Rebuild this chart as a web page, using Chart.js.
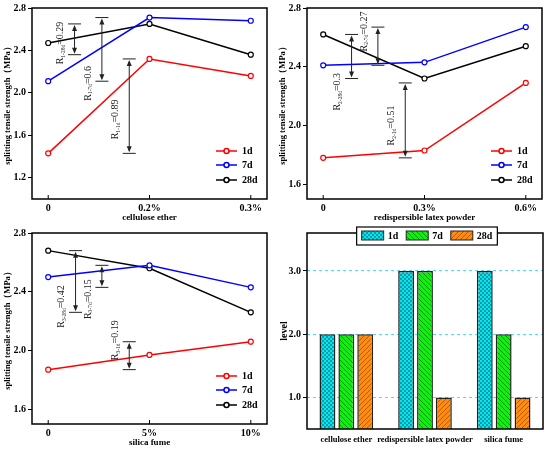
<!DOCTYPE html>
<html>
<head>
<meta charset="utf-8">
<script src="https://cdn.jsdelivr.net/npm/chart.js@4.4.0/dist/chart.umd.min.js"></script>
<style>
  body { margin: 0; background: #fff; }
  #wrap { position: relative; width: 550px; height: 450px; }
  .cell { position: absolute; width: 275px; height: 225px; }
</style>
</head>
<body>
<div id="wrap">
  <div class="cell" style="left:0;top:0"><canvas id="c1" width="275" height="225"></canvas></div>
  <div class="cell" style="left:275px;top:0"><canvas id="c2" width="275" height="225"></canvas></div>
  <div class="cell" style="left:0;top:225px"><canvas id="c3" width="275" height="225"></canvas></div>
  <div class="cell" style="left:275px;top:225px"><canvas id="c4" width="275" height="225"></canvas></div>
</div>
<script>
// ---- data ----
const ageLabels = ['1d', '7d', '28d'];

const doseCE = ['0', '0.2%', '0.3%'];
const ce1d  = [1.43, 2.32, 2.16];
const ce7d  = [2.11, 2.71, 2.68];
const ce28d = [2.47, 2.65, 2.36];

const doseRLP = ['0', '0.3%', '0.6%'];
const rlp1d  = [1.78, 1.83, 2.29];
const rlp7d  = [2.41, 2.43, 2.67];
const rlp28d = [2.62, 2.32, 2.54];

const doseSF = ['0', '5%', '10%'];
const sf1d  = [1.87, 1.97, 2.06];
const sf7d  = [2.50, 2.58, 2.43];
const sf28d = [2.68, 2.56, 2.26];

// range arrows (order: 28d, 7d, 1d)
const ceRangeX = [0.26, 0.53, 0.80];
const ceRangeName = ['1-28d', '1-7d', '1-1d'];
const ceRangeVal = ['0.29', '0.6', '0.89'];
const ceRangeLabelY = [2.47, 2.09, 1.75];

const rlpRangeX = [0.28, 0.54, 0.81];
const rlpRangeName = ['2-28d', '2-7d', '2-1d'];
const rlpRangeVal = ['0.3', '0.27', '0.51'];
const rlpRangeLabelY = [2.23, 2.64, 2.00];

const sfRangeX = [0.27, 0.53, 0.80];
const sfRangeName = ['3-28d', '3-7d', '3-1d'];
const sfRangeVal = ['0.42', '0.15', '0.19'];
const sfRangeLabelY = [2.30, 2.35, 2.07];

const factors = ['cellulose ether', 'redispersible latex powder', 'silica fume'];
const level1d  = [2, 3, 3];
const level7d  = [2, 3, 2];
const level28d = [2, 1, 1];

const strengthTitle = 'splitting tensile strength（MPa）';

// ---- shared bits ----
const FONT = "'Liberation Serif', 'Times New Roman', serif";
Chart.defaults.font.family = FONT;
Chart.defaults.color = '#000';
const boldFont = { family: FONT, size: 10, weight: 'bold' };
const titleFont = { family: FONT, size: 9, weight: 'bold' };
const yTitleFont = { family: FONT, size: 8.5, weight: 'bold' };

const boxPlugin = {
  id: 'box',
  afterDraw(chart) {
    const { ctx, chartArea: ca } = chart;
    ctx.save();
    ctx.strokeStyle = '#000';
    ctx.lineWidth = 1.5;
    ctx.strokeRect(ca.left, ca.top, ca.right - ca.left, ca.bottom - ca.top);
    if (chart.config.type === 'line') {
      const x = chart.scales.x;
      ctx.lineWidth = 1;
      x.ticks.forEach(t => {
        const px = x.getPixelForValue(t.value);
        ctx.beginPath();
        ctx.moveTo(px, ca.bottom);
        ctx.lineTo(px, ca.bottom - 4);
        ctx.stroke();
      });
    }
    ctx.restore();
  }
};

const lineLegendPlugin = {
  id: 'lineLegend',
  afterDraw(chart) {
    const { ctx, chartArea: ca } = chart;
    const rows = [48, 34, 19];
    ctx.save();
    chart.data.datasets.forEach((ds, i) => {
      const yy = ca.bottom - rows[i];
      ctx.strokeStyle = ds.borderColor;
      ctx.lineWidth = 1.5;
      ctx.beginPath();
      ctx.moveTo(ca.right - 51, yy);
      ctx.lineTo(ca.right - 30, yy);
      ctx.stroke();
      ctx.fillStyle = '#fff';
      ctx.beginPath();
      ctx.arc(ca.right - 40.5, yy, 2.5, 0, Math.PI * 2);
      ctx.fill();
      ctx.stroke();
      ctx.fillStyle = '#000';
      ctx.font = 'bold 10px ' + FONT;
      ctx.textBaseline = 'middle';
      ctx.fillText(ds.label, ca.right - 25, yy);
    });
    ctx.restore();
  }
};

function rangePlugin(rx, series, names, vals, labelY) {
  return {
    id: 'ranges',
    afterDatasetsDraw(chart) {
      const { ctx } = chart;
      const x = chart.scales.x, y = chart.scales.y;
      rx.forEach((xv, i) => {
        const px = x.getPixelForValue(xv);
        const top = y.getPixelForValue(Math.max(...series[i]));
        const bot = y.getPixelForValue(Math.min(...series[i]));
        ctx.save();
        ctx.strokeStyle = '#222';
        ctx.fillStyle = '#222';
        ctx.lineWidth = 1;
        ctx.beginPath();
        ctx.moveTo(px - 6.5, top); ctx.lineTo(px + 6.5, top);
        ctx.moveTo(px - 6.5, bot); ctx.lineTo(px + 6.5, bot);
        ctx.moveTo(px, top + 3); ctx.lineTo(px, bot - 3);
        ctx.stroke();
        ctx.beginPath();
        ctx.moveTo(px, top + 1); ctx.lineTo(px - 2.5, top + 7); ctx.lineTo(px + 2.5, top + 7);
        ctx.closePath();
        ctx.moveTo(px, bot - 1); ctx.lineTo(px - 2.5, bot - 7); ctx.lineTo(px + 2.5, bot - 7);
        ctx.closePath();
        ctx.fill();
        // vertical label: R_sub=val
        ctx.translate(px - 14, y.getPixelForValue(labelY[i]));
        ctx.rotate(-Math.PI / 2);
        ctx.textBaseline = 'middle';
        const mainF = '10px ' + FONT, subF = '5.5px ' + FONT;
        ctx.font = mainF;
        const wR = ctx.measureText('R').width;
        const tail = '=' + vals[i];
        const wT = ctx.measureText(tail).width;
        ctx.font = subF;
        const wS = ctx.measureText(names[i]).width;
        let sx = -(wR + wS + wT) / 2;
        ctx.font = mainF;
        ctx.fillText('R', sx, 0);
        ctx.font = subF;
        ctx.fillText(names[i], sx + wR, 3);
        ctx.font = mainF;
        ctx.fillText(tail, sx + wR + wS, 0);
        ctx.restore();
      });
    }
  };
}

function lineChart(id, doses, s1, s7, s28, yMin, yMax, yTicks, xTitle, rx, names, vals, labelY) {
  const series = [s1, s7, s28];
  const colors = ['#ff0000', '#0000ff', '#000000'];
  new Chart(document.getElementById(id), {
    type: 'line',
    data: {
      datasets: series.map((s, i) => ({
        label: ageLabels[i],
        data: s.map((v, j) => ({ x: j, y: v })),
        borderColor: colors[i],
        borderWidth: 1.5,
        pointRadius: 2.5,
        pointBorderWidth: 1.2,
        pointBackgroundColor: '#fff',
        pointBorderColor: colors[i],
        tension: 0
      }))
    },
    options: {
      responsive: false,
      animation: false,
      layout: { padding: { left: 0, right: 8, top: 8, bottom: 0 } },
      plugins: { legend: { display: false }, tooltip: { enabled: false } },
      scales: {
        x: {
          type: 'linear', min: -0.16, max: 2.16,
          afterBuildTicks: s => { s.ticks = doses.map((d, j) => ({ value: j })); },
          afterFit: s => { s.height = 26; },
          ticks: { callback: v => doses[v], font: boldFont, padding: 3, maxRotation: 0 },
          grid: { display: false, drawTicks: false },
          border: { display: false },
          title: { display: true, text: xTitle, font: titleFont, padding: { top: 0, bottom: 2 } }
        },
        y: {
          type: 'linear', min: yMin, max: yMax,
          afterBuildTicks: s => { s.ticks = yTicks.map(v => ({ value: v })); },
          afterFit: s => { s.width = 32; },
          ticks: { callback: v => v.toFixed(1), font: boldFont, padding: 2 },
          grid: { drawOnChartArea: false, tickLength: 4, color: '#000' },
          border: { display: false },
          title: { display: true, text: strengthTitle, font: yTitleFont, padding: { top: 3, bottom: 0 } }
        }
      }
    },
    plugins: [rangePlugin(rx, [s28, s7, s1], names, vals, labelY), boxPlugin, lineLegendPlugin]
  });
}

lineChart('c1', doseCE, ce1d, ce7d, ce28d, 1.0, 2.8, [1.2, 1.6, 2.0, 2.4, 2.8],
  'cellulose ether', ceRangeX, ceRangeName, ceRangeVal, ceRangeLabelY);
lineChart('c2', doseRLP, rlp1d, rlp7d, rlp28d, 1.5, 2.8, [1.6, 2.0, 2.4, 2.8],
  'redispersible latex powder', rlpRangeX, rlpRangeName, rlpRangeVal, rlpRangeLabelY);
lineChart('c3', doseSF, sf1d, sf7d, sf28d, 1.5, 2.8, [1.6, 2.0, 2.4, 2.8],
  'silica fume', sfRangeX, sfRangeName, sfRangeVal, sfRangeLabelY);

// ---- bar chart of levels ----
function makePattern(base, line, kind) {
  const n = kind === 'cross' ? 4 : 5;
  const c = document.createElement('canvas');
  c.width = n; c.height = n;
  const g = c.getContext('2d');
  g.fillStyle = base;
  g.fillRect(0, 0, n, n);
  g.strokeStyle = line;
  g.lineWidth = 1;
  g.beginPath();
  [-n, 0, n].forEach(k => {
    if (kind === 'back' || kind === 'cross') { g.moveTo(k, 0); g.lineTo(k + n, n); }
    if (kind === 'fwd' || kind === 'cross') { g.moveTo(k + n, 0); g.lineTo(k, n); }
  });
  g.stroke();
  return g.createPattern(c, 'repeat');
}

const barCtx = document.getElementById('c4').getContext('2d');
const barFills = [
  makePattern('#00e8f0', '#0a9aa8', 'cross'),
  makePattern('#10f010', '#0a8f0a', 'back'),
  makePattern('#ff8c10', '#b85a00', 'fwd')
];

const barLegendPlugin = {
  id: 'barLegend',
  afterDraw(chart) {
    const { ctx, chartArea: ca } = chart;
    ctx.save();
    ctx.font = 'bold 10px ' + FONT;
    const items = chart.data.datasets.map(ds => ({ ds, w: ctx.measureText(ds.label).width }));
    const total = items.reduce((a, it) => a + 26 + it.w + 8, 0) + 2;
    const left = (ca.left + ca.right) / 2 - total / 2 + 2;
    ctx.fillStyle = '#fff';
    ctx.fillRect(left, 2, total, 18);
    ctx.strokeStyle = '#000';
    ctx.lineWidth = 1.2;
    ctx.strokeRect(left, 2, total, 18);
    let x = left + 5;
    items.forEach(it => {
      ctx.fillStyle = it.ds.backgroundColor;
      ctx.fillRect(x, 6, 22, 9);
      ctx.lineWidth = 1;
      ctx.strokeStyle = '#222';
      ctx.strokeRect(x, 6, 22, 9);
      ctx.fillStyle = '#000';
      ctx.textBaseline = 'middle';
      ctx.fillText(it.ds.label, x + 26, 11);
      x += 26 + it.w + 8;
    });
    ctx.restore();
  }
};

new Chart(barCtx, {
  type: 'bar',
  data: {
    labels: factors,
    datasets: [level1d, level7d, level28d].map((s, i) => ({
      label: ageLabels[i],
      data: s,
      backgroundColor: barFills[i],
      borderColor: '#222',
      borderWidth: 1.5,
      borderSkipped: false,
      categoryPercentage: 0.72,
      barPercentage: 0.84
    }))
  },
  options: {
    responsive: false,
    animation: false,
    layout: { padding: { left: 0, right: 7, top: 8, bottom: 0 } },
    plugins: { legend: { display: false }, tooltip: { enabled: false } },
    scales: {
      x: {
        afterFit: s => { s.height = 21; },
        ticks: { font: { family: FONT, size: 8.5, weight: 'bold' }, padding: 6, maxRotation: 0, autoSkip: false },
        grid: { display: false, drawTicks: false },
        border: { display: false }
      },
      y: {
        type: 'linear', min: 0.5, max: 3.6,
        afterBuildTicks: s => { s.ticks = [1, 2, 3].map(v => ({ value: v })); },
        afterFit: s => { s.width = 32; },
        ticks: { callback: v => v.toFixed(1), font: boldFont, padding: 2 },
        grid: { color: '#40e0ff', lineWidth: 1, tickLength: 4, tickColor: '#000' },
        border: { display: false, dash: [3, 3] },
        title: { display: true, text: 'level', font: boldFont, padding: { top: 3, bottom: 0 } }
      }
    }
  },
  plugins: [boxPlugin, barLegendPlugin]
});
</script>
</body>
</html>
